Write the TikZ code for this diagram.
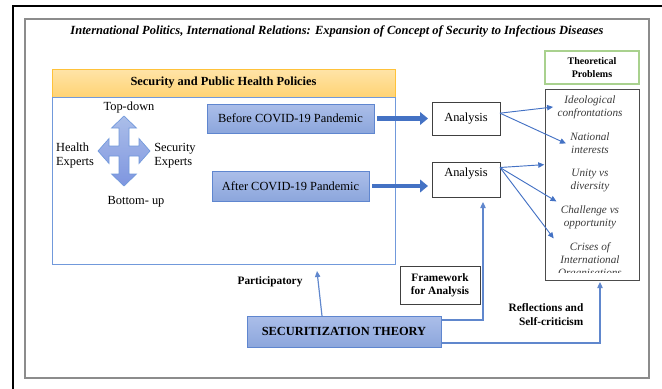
\documentclass[tikz,border=0pt]{standalone}
\usepackage{fontspec}
\setmainfont{Liberation Serif}
\usepackage{tikz}
\usetikzlibrary{arrows.meta,positioning}

\definecolor{boxtop}{HTML}{ABBEE9}
\definecolor{boxbot}{HTML}{8CA6DC}
\definecolor{boxedge}{HTML}{5F86CF}
\definecolor{policyedge}{HTML}{7199DB}
\definecolor{hdrtop}{HTML}{FFE4A8}
\definecolor{hdrbot}{HTML}{FFD374}
\definecolor{hdredge}{HTML}{FFC23A}
\definecolor{linkblue}{HTML}{4472C4}
\definecolor{framegray}{HTML}{8C8C8C}
\definecolor{probgreen}{HTML}{A9D18E}
\definecolor{itemgray}{HTML}{3A3A3A}

\newcommand{\mainsize}{\fontsize{9.3}{10.5}\selectfont}
\newcommand{\itemsize}{\fontsize{8.4}{9.75}\selectfont}

\begin{document}
\begin{tikzpicture}[%
    x=0.75pt, y=-0.75pt,
    >={Triangle[length=4.5pt,width=4pt]},
    node distance=3.75pt,
    every node/.style={font=\mainsize, outer sep=0pt},
    bluebox/.style={draw=boxedge, line width=0.6pt, top color=boxtop, bottom color=boxbot},
    anabox/.style={draw=black!75, line width=0.6pt, fill=white, minimum width=51pt},
    item/.style={align=center, text=itemgray, font=\itemsize\itshape},
    bigarrow/.style={linkblue, line width=3.6pt, -{Triangle[length=6pt,width=9.5pt]},
                     shorten <=2.5pt, shorten >=3pt},
    thinarrow/.style={->, linkblue, line width=0.7pt},
    link/.style={->, linkblue!85, line width=0.9pt}
    ]

    \useasboundingbox (0,0) rectangle (662,389);

    % frames
    \draw[line width=1.5pt] (13,389) -- (13,6) -- (662,6);
    \draw[framegray, line width=1.1pt] (25,19) rectangle (649,378);

    \node[font=\fontsize{9.35}{11}\selectfont\bfseries\itshape] (title) at (337,31)
        {International Politics, International Relations: Expansion of Concept of Security to Infectious Diseases};

    % policies
    \node[draw=hdredge, line width=0.6pt, top color=hdrtop, bottom color=hdrbot,
          minimum width=257.25pt, minimum height=21pt, font=\mainsize\bfseries] (hdr) at (223.5,83)
        {Security and Public Health Policies};
    \node[draw=policyedge, line width=0.6pt, minimum width=257.25pt, minimum height=125.25pt,
          below=0pt of hdr] (policy) {};

    \draw[draw=policyedge, line width=0.5pt, top color=boxtop, bottom color=boxbot!90!blue, shift={(124,151)}]
        (0,-35) -- (12.5,-23) -- (5,-23) -- (5,-5) -- (15,-5) -- (15,-12.5) -- (26,0)
        -- (15,12.5) -- (15,5) -- (5,5) -- (5,23) -- (12.5,23) -- (0,35) -- (-12.5,23)
        -- (-5,23) -- (-5,5) -- (-15,5) -- (-15,12.5) -- (-26,0) -- (-15,-12.5)
        -- (-15,-5) -- (-5,-5) -- (-5,-23) -- (-12.5,-23) -- cycle;

    \node (topdown) at (129,108) {Top-down};
    \node[align=left] (health) at (75,156) {Health\\Experts};
    \node[align=left] (secexp) at (175,156) {Security\\Experts};
    \node (bottomup) at (136,202) {Bottom- up};

    \node[bluebox, minimum width=125.25pt, minimum height=21.75pt] (before) at (290.5,118.5) {Before COVID-19 Pandemic};
    \node[bluebox, minimum width=117.75pt, minimum height=22.5pt] (after) at (290.5,186) {After COVID-19 Pandemic};

    \node[anabox, minimum height=24.75pt] (ana1) at (466,118.5) {Analysis};
    \node[anabox, minimum height=26.25pt, text depth=11pt] (ana2) at (466,179.5) {Analysis};

    % theoretical problems
    \node[draw=probgreen, line width=0.8pt, minimum width=70.5pt, minimum height=24.75pt, align=center,
          font=\fontsize{7.5}{9.25}\selectfont\bfseries] (theo) at (592,67.5) {Theoretical\\Problems};
    \node[draw=black!70, line width=0.7pt, minimum width=70.5pt, minimum height=143.25pt,
          below=of theo] (probs) {};

    \node[item] (ideo) at (590,107) {Ideological\\confrontations};
    \node[item] (national) at (590,143.5) {National\\interests};
    \node[item] (unity) at (590,180.5) {Unity vs\\diversity};
    \node[item] (challenge) at (590,217.5) {Challenge vs\\opportunity};
    \begin{scope}
        \clip (545,89) rectangle (639,272.5);
        \node[item] (crises) at (590,261) {Crises of\\International\\Organisations};
    \end{scope}

    % theory
    \node[bluebox, minimum width=145.5pt, minimum height=23.25pt, font=\mainsize\bfseries] (theory) at (344,331.5)
        {SECURITIZATION THEORY};
    \node[draw=black!75, line width=0.6pt, fill=white, minimum width=60pt, minimum height=28.5pt, align=center,
          font=\fontsize{8.5}{9.75}\selectfont\bfseries] (frame) at (440,285) {Framework\\for Analysis};
    \node[font=\fontsize{8.5}{10}\selectfont\bfseries] (particip) at (270,282) {Participatory};
    \node[align=right, font=\fontsize{8.5}{10.5}\selectfont\bfseries] (reflect) at (546,315) {Reflections and\\Self-criticism};

    \coordinate (partip) at (317,271);
    \coordinate (fwtip) at (483,202);
    \coordinate (reftip) at (600,282);

    \draw[bigarrow] (before) -- (ana1);
    \draw[bigarrow] (after.east) -- (after.east -| ana2.west);

    \path[thinarrow] ([yshift=4pt]ana1.east) edge (ideo.west)
                                              edge (national.west);
    \path[thinarrow] ([yshift=9pt]ana2.east) edge ([xshift=-16.5pt]unity.north west)
                                              edge (challenge.north west)
                                              edge (crises.north west);

    \draw[link] ([xshift=-16.5pt]theory.north) -- (partip);
    \draw[link] ([yshift=-3pt]theory.north east) -| (fwtip);
    \draw[link] ([yshift=3pt]theory.south east) -| (reftip);

\end{tikzpicture}
\end{document}
